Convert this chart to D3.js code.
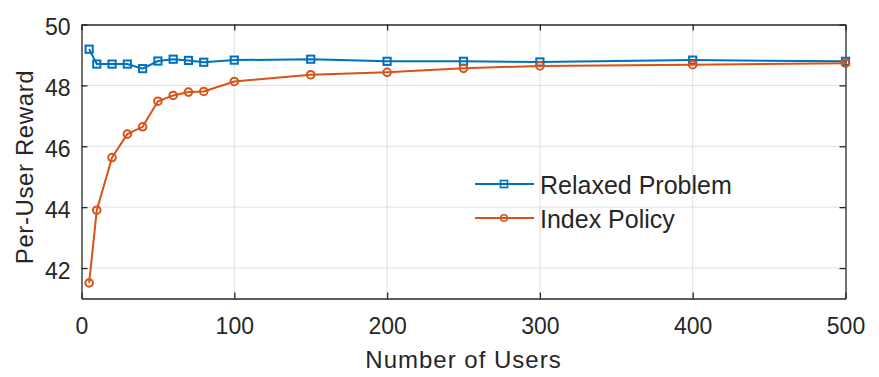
<!DOCTYPE html>
<html lang="en">
<head>
    <meta charset="UTF-8">
    <title>Per-User Reward</title>
    <style>
        body { margin: 0; background: #fff; }
        svg text { font-family: "Liberation Sans", Arial, sans-serif; fill: #262626; }
    </style>
</head>
<body>
<div id="chart"></div>

<script src="https://cdn.jsdelivr.net/npm/d3@7"></script>
<script>
    // data
    const users = [5, 10, 20, 30, 40, 50, 60, 70, 80, 100, 150, 200, 250, 300, 400, 500]
    const relaxed = [49.19, 48.70, 48.70, 48.70, 48.55, 48.80, 48.86, 48.82, 48.76, 48.83, 48.86, 48.79, 48.79, 48.77, 48.83, 48.79]
    const indexPolicy = [41.51, 43.90, 45.63, 46.40, 46.64, 47.48, 47.67, 47.78, 47.80, 48.13, 48.35, 48.43, 48.56, 48.64, 48.68, 48.73]
    const xTicks = [0, 100, 200, 300, 400, 500]
    const yTicks = [42, 44, 46, 48, 50]
    const seriesNames = ['Relaxed Problem', 'Index Policy']
    const colors = ['#0072BD', '#D95319']

    const width = 879, height = 377
    const m = {left: 81.5, right: 879 - 845.5, top: 24.5, bottom: 377 - 298.5}

    const svg = d3.select('#chart').append('svg')
        .attr('width', width)
        .attr('height', height)

    const x = d3.scaleLinear().domain([0, 500]).range([m.left, width - m.right])
    const y = d3.scaleLinear().domain([41, 50]).range([height - m.bottom, m.top])

    // grid
    const grid = svg.append('g')
    grid.selectAll('line.gx')
        .data(xTicks.slice(1, -1))
        .enter().append('line')
        .attr('x1', d => x(d)).attr('x2', d => x(d))
        .attr('y1', y(41)).attr('y2', y(50))
        .attr('stroke', '#dfdfdf').attr('stroke-width', 1)
    grid.selectAll('line.gy')
        .data(yTicks.slice(0, -1))
        .enter().append('line')
        .attr('x1', x(0)).attr('x2', x(500))
        .attr('y1', d => y(d)).attr('y2', d => y(d))
        .attr('stroke', '#dfdfdf').attr('stroke-width', 1)

    // axes, ticks inside like matlab
    const axColor = '#262626'
    const bottomAxis = svg.append('g')
        .attr('transform', `translate(0,${y(41)})`)
        .call(d3.axisBottom(x).tickValues(xTicks).tickSizeInner(-6).tickSizeOuter(0).tickPadding(19))
    const topAxis = svg.append('g')
        .attr('transform', `translate(0,${y(50)})`)
        .call(d3.axisTop(x).tickValues(xTicks).tickSizeInner(-6).tickSizeOuter(0).tickFormat(''))
    const leftAxis = svg.append('g')
        .attr('transform', `translate(${x(0)},0)`)
        .call(d3.axisLeft(y).tickValues(yTicks).tickSizeInner(-6).tickSizeOuter(0).tickPadding(11))
    const rightAxis = svg.append('g')
        .attr('transform', `translate(${x(500)},0)`)
        .call(d3.axisRight(y).tickValues(yTicks).tickSizeInner(-6).tickSizeOuter(0).tickFormat(''))

    ;[bottomAxis, topAxis, leftAxis, rightAxis].forEach(a => {
        a.select('.domain').attr('stroke', axColor).attr('stroke-width', 1.3)
        a.selectAll('.tick line').attr('stroke', axColor).attr('stroke-width', 1.3)
        a.selectAll('.tick text').attr('font-size', 23).attr('fill', axColor)
            .style('font-family', '"Liberation Sans", Arial, sans-serif')
    })
    leftAxis.selectAll('.tick text').attr('dy', '0.45em')

    // axis labels
    svg.append('text')
        .attr('x', (x(0) + x(500)) / 2)
        .attr('y', 368)
        .attr('text-anchor', 'middle')
        .attr('font-size', 24)
        .attr('letter-spacing', 1)
        .text('Number of Users')
    svg.append('text')
        .attr('transform', `translate(33,167) rotate(-90)`)
        .attr('text-anchor', 'middle')
        .attr('font-size', 24)
        .attr('letter-spacing', 0.6)
        .text('Per-User Reward')

    // series
    const series = [relaxed, indexPolicy]
    const line = d3.line()
        .x((d, i) => x(users[i]))
        .y(d => y(d))

    series.forEach((vals, k) => {
        const g = svg.append('g')
        g.append('path')
            .datum(vals)
            .attr('d', line)
            .attr('fill', 'none')
            .attr('stroke', colors[k])
            .attr('stroke-width', 2)
        if (k === 0) {
            g.selectAll('rect')
                .data(vals)
                .enter().append('rect')
                .attr('x', (d, i) => x(users[i]) - 3.6)
                .attr('y', d => y(d) - 3.6)
                .attr('width', 7.2).attr('height', 7.2)
                .attr('fill', 'none')
                .attr('stroke', colors[k])
                .attr('stroke-width', 2)
        } else {
            g.selectAll('circle')
                .data(vals)
                .enter().append('circle')
                .attr('cx', (d, i) => x(users[i]))
                .attr('cy', d => y(d))
                .attr('r', 3.8)
                .attr('fill', 'none')
                .attr('stroke', colors[k])
                .attr('stroke-width', 2)
        }
    })

    // legend
    const legend = svg.append('g')
    seriesNames.forEach((name, k) => {
        const ly = 184 + k * 34
        legend.append('line')
            .attr('x1', 475).attr('x2', 534)
            .attr('y1', ly).attr('y2', ly)
            .attr('stroke', colors[k]).attr('stroke-width', 2)
        if (k === 0) {
            legend.append('rect')
                .attr('x', 504 - 3.5).attr('y', ly - 3.5)
                .attr('width', 7).attr('height', 7)
                .attr('fill', 'none').attr('stroke', colors[k]).attr('stroke-width', 1.6)
        } else {
            legend.append('circle')
                .attr('cx', 504).attr('cy', ly).attr('r', 3.3)
                .attr('fill', 'none').attr('stroke', colors[k]).attr('stroke-width', 1.6)
        }
        legend.append('text')
            .attr('x', 540).attr('y', ly + 10)
            .attr('font-size', 25)
            .text(name)
    })
</script>
</body>
</html>
